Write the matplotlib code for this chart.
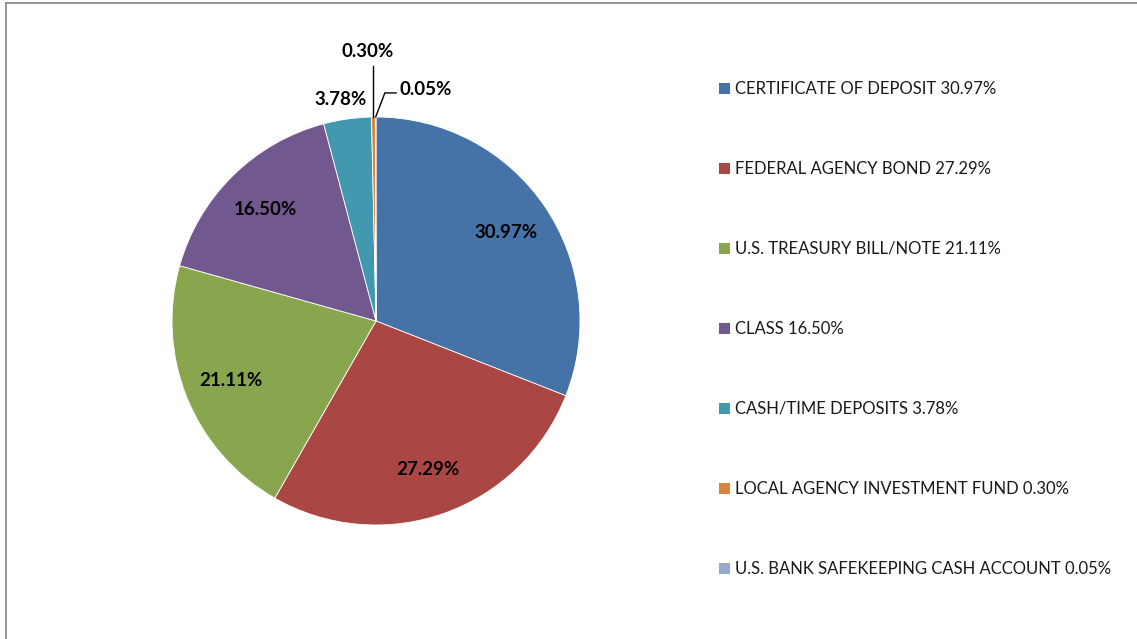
import matplotlib
matplotlib.use("Agg")
import matplotlib.pyplot as plt
import numpy as np
from matplotlib.lines import Line2D

categories = ["CERTIFICATE OF DEPOSIT", "FEDERAL AGENCY BOND", "U.S. TREASURY BILL/NOTE",
              "CLASS", "CASH/TIME DEPOSITS", "LOCAL AGENCY INVESTMENT FUND",
              "U.S. BANK SAFEKEEPING CASH ACCOUNT"]
values = [30.97, 27.29, 21.11, 16.50, 3.78, 0.30, 0.05]
colors = ["#4572A7", "#AA4643", "#89A54E", "#71588F", "#4198AF", "#DB843D", "#93A9CF"]

plt.rcParams['font.family'] = ['Lato', 'DejaVu Sans']

W, H = 1137, 639
fig = plt.figure(figsize=(W / 100, H / 100), dpi=100)
cx, cy, R = 376, 321, 204
ax = fig.add_axes([(cx - R) / W, (H - cy - R) / H, 2 * R / W, 2 * R / H])
wedges, _ = ax.pie(values, colors=colors, startangle=90, counterclock=False,
                   wedgeprops=dict(edgecolor="white", linewidth=0.6))
ax.set_xlim(-1, 1)
ax.set_ylim(-1, 1)
ax.set_aspect("equal")
ax.axis("off")

lbl_font = dict(fontsize=13.5, fontweight="bold", color="black")
def mid(w):
    return np.deg2rad((w.theta1 + w.theta2) / 2)

# big labels inside
for w, v in zip(wedges[:4], values[:4]):
    a = mid(w)
    ax.text(0.77 * np.cos(a), 0.77 * np.sin(a), f"{v:.2f}%", ha="center", va="center", **lbl_font)

# CASH label outside
a = mid(wedges[4])
ax.text(1.10 * np.cos(a) - 0.02, 1.095 * np.sin(a), f"{values[4]:.2f}%", ha="center", va="center", **lbl_font)

# LAIF label with vertical leader
a = mid(wedges[5])
x0 = np.cos(a)
ax.plot([x0, x0], [np.sin(a), 1.25], color="black", lw=1, clip_on=False)
ax.text(x0 - 0.03, 1.32, f"{values[5]:.2f}%", ha="center", va="center", **lbl_font)

# US Bank label with bent leader
a = mid(wedges[6])
x0, y0 = np.cos(a), np.sin(a)
ax.plot([x0, x0 + 0.045, x0 + 0.10], [y0, 1.118, 1.118], color="black", lw=1, clip_on=False)
ax.text(x0 + 0.115, 1.135, f"{values[6]:.2f}%", ha="left", va="center", **lbl_font)

labels = [f"{c} {v:.2f}%" for c, v in zip(categories, values)]
leg = fig.legend(wedges, labels, loc="upper left", bbox_to_anchor=(719 / W, 1 - 81 / H),
                 frameon=False, fontsize=12, labelspacing=3.84, handlelength=0.66,
                 handleheight=0.66, handletextpad=0.3, borderaxespad=0, borderpad=0)
for t in leg.get_texts():
    t.set_color("#1a1a1a")
for h in leg.legend_handles:
    h.set_edgecolor("none")

# chart area border (left and top visible)
fig.add_artist(Line2D([5.5 / W, 5.5 / W], [0, 1 - 2.5 / H], color="#8c8c8c", lw=1.3, transform=fig.transFigure))
fig.add_artist(Line2D([5.5 / W, 1], [1 - 2.5 / H, 1 - 2.5 / H], color="#8c8c8c", lw=1.3, transform=fig.transFigure))

fig.savefig("out.png", dpi=100)
